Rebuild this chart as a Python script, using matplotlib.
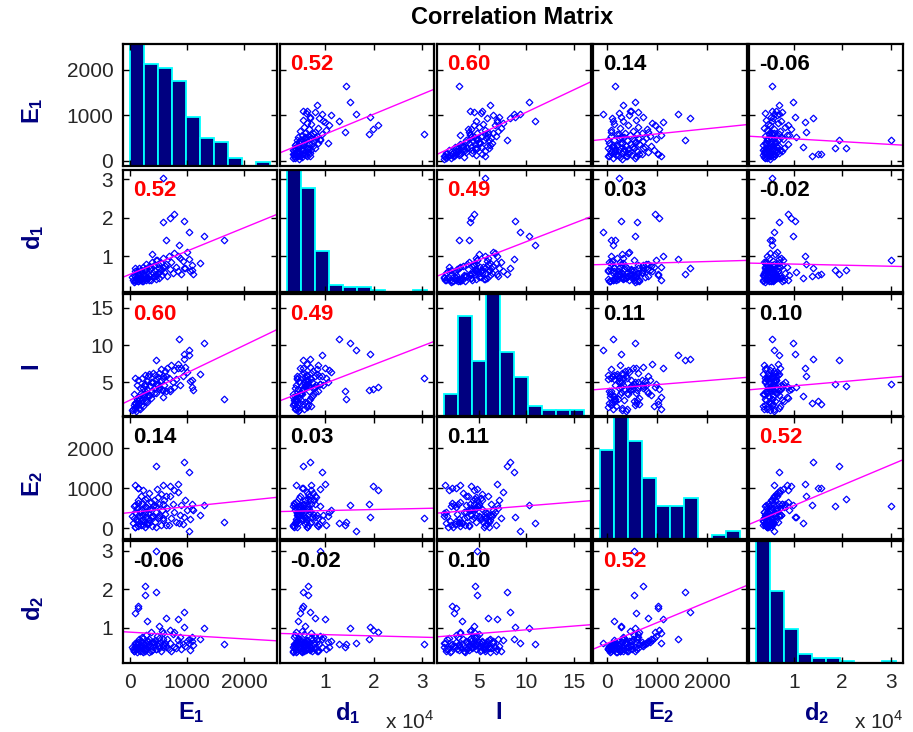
import numpy as np
import matplotlib
matplotlib.use('Agg')
import matplotlib.pyplot as plt

plt.rcParams['font.family'] = ['Liberation Sans', 'DejaVu Sans']
plt.rcParams['mathtext.fontset'] = 'custom'
plt.rcParams['mathtext.rm'] = 'Liberation Sans'
plt.rcParams['mathtext.bf'] = 'Liberation Sans:bold'

# variable names (d values are in units of 1e4)
var_labels = [r'$\mathbf{E_1}$', r'$\mathbf{d_1}$', r'$\mathbf{I}$', r'$\mathbf{E_2}$', r'$\mathbf{d_2}$']
var_ticks = [[0, 1000, 2000], [1, 2, 3], [5, 10, 15], [0, 1000, 2000], [1, 2, 3]]
sci_note = [False, True, False, False, True]

# data range of each variable (histogram span)
hist_lo = [5, 0.22, 1.25, -130, 0.22]
hist_hi = [2450, 3.10, 16.1, 2650, 3.11]

# histogram counts (10 bins)
hist_E1 = [30, 25, 24, 21, 12, 7, 6, 2, 0, 1]
hist_d1 = [53, 45, 18, 3, 2, 2, 1, 0, 0, 1]
hist_I = [7, 31, 17, 38, 20, 12, 3, 2, 2, 2]
hist_E2 = [22, 30, 24, 15, 8, 8, 10, 0, 1, 2]
hist_d2 = [54, 32, 15, 4, 2, 2, 1, 0, 0, 1]

E1 = [1654, 1289, 1027, 954, 779, 700, 590, 633, 590, 1232, 1100, 1085, 867, 466,
      466, 270, 270, 940, 1027, 850, 150, 150, 100, 100, 393, 100, 577, 300, 520, 640,
      60, 80, 95, 110, 120, 130, 140, 150, 160, 170, 180, 190, 200, 210, 220, 230,
      240, 250, 260, 270, 280, 290, 300, 310, 320, 330, 345, 360, 375, 390, 400, 415,
      430, 445, 460, 475, 490, 505, 520, 540, 555, 570, 585, 600, 620, 650, 680, 700,
      720, 750, 780, 810, 840, 870, 900, 930, 960, 1000, 1050, 1080,
      40, 70, 100, 125, 145, 175, 205, 235, 265, 295, 335, 380, 420, 460, 500]
d1 = [1.43, 1.52, 1.63, 1.93, 2.10, 1.99, 1.90, 1.42, 3.03, 0.83, 0.55, 0.64, 1.29, 0.90,
      0.55, 0.66, 0.66, 0.70, 0.94, 1.01, 0.52, 0.55, 0.48, 0.40, 1.06, 0.70, 0.72, 0.45, 0.60, 0.80,
      0.38, 0.52, 0.36, 0.45, 0.61, 0.40, 0.35, 0.58, 0.44, 0.70, 0.39, 0.48, 0.66, 0.42, 0.37, 0.55,
      0.72, 0.41, 0.50, 0.64, 0.38, 0.80, 0.47, 0.59, 0.43, 0.75, 0.52, 0.68, 0.40, 0.85, 0.56, 0.46,
      0.78, 0.62, 0.49, 0.90, 0.58, 0.71, 0.44, 0.83, 0.65, 0.53, 0.95, 0.60, 0.76, 0.48, 1.02, 0.67,
      0.86, 0.57, 1.08, 0.72, 0.63, 0.97, 0.54, 0.88, 0.70, 1.12, 0.61, 0.79,
      0.46, 0.34, 0.63, 0.41, 0.37, 0.56, 0.43, 0.35, 0.68, 0.45, 0.39, 0.73, 0.50, 0.42, 0.81]
I = [2.8, 10.3, 9.3, 8.8, 4.4, 4.16, 4.05, 3.9, 5.6, 6.1, 4.0, 5.3, 10.85, 4.8,
     7.95, 4.77, 4.5, 8.2, 8.7, 6.9, 2.5, 2.05, 2.3, 1.4, 5.0, 5.56, 3.0, 3.2, 4.4, 5.9,
     1.5, 3.4, 2.2, 1.2, 4.6, 1.9, 3.0, 5.3, 1.6, 2.8, 4.2, 3.6, 2.0, 5.6, 2.7, 4.2,
     1.8, 4.6, 3.4, 6.0, 2.5, 3.7, 5.2, 2.4, 5.8, 3.3, 6.1, 4.5, 2.9, 3.9, 6.3, 5.0,
     4.3, 6.0, 3.6, 4.8, 5.7, 6.2, 4.1, 6.8, 5.3, 4.0, 5.9, 4.7, 6.5, 7.0, 5.6, 3.8,
     7.3, 5.0, 6.7, 5.4, 7.5, 4.6, 6.9, 5.8, 7.1, 6.4, 5.2, 4.4,
     1.3, 2.0, 1.7, 2.8, 2.1, 1.5, 2.5, 3.5, 2.6, 4.1, 3.2, 5.1, 3.6, 5.5, 4.6]
E2 = [160, 571, -80, 285, 956, 1050, 600, 80, 250, 325, 470, 490, 130, 547,
      1566, 547, 733, 1650, 1420, 1120, 1013, 1013, 590, 1076, 300, 400, 1076, 139, 292, 820,
      120, 260, 40, 380, 510, 180, 60, 700, 300, 140, 450, 820, 90, 330, 600, 240,
      950, 160, 420, 20, 540, 280, 760, 100, 380, 880, 210, 480, 650, 50, 300, 560,
      720, 150, 400, 980, 250, 620, 340, 80, 860, 460, 200, 700, 360, 520, 90, 800,
      260, 620, 420, 150, 900, 330, 580, 110, 720, 450, 240, 620,
      310, 560, 30, 230, 640, 410, 170, 70, 350, 500, 130, 270, 590, 30, 780]
d2 = [0.56, 0.99, 0.60, 1.02, 0.88, 0.94, 0.70, 0.50, 0.56, 0.70, 0.55, 0.64, 0.56, 3.00,
      1.93, 1.86, 2.07, 1.40, 0.70, 1.23, 1.50, 1.56, 1.37, 0.60, 0.62, 0.50, 0.85, 1.18, 1.05, 1.25,
      0.45, 0.38, 0.52, 0.60, 0.44, 0.36, 0.48, 0.62, 0.70, 0.41, 0.50, 0.66, 0.55, 0.40, 0.75, 0.47,
      0.72, 0.58, 0.39, 0.46, 0.80, 0.43, 0.57, 0.51, 0.64, 0.69, 0.37, 0.53, 0.88, 0.42, 0.61, 0.49,
      0.56, 0.68, 0.44, 0.78, 0.52, 0.46, 0.73, 0.40, 0.63, 0.90, 0.48, 0.54, 0.59, 0.71, 0.45, 0.60,
      0.38, 0.82, 0.50, 0.47, 0.67, 0.74, 0.43, 0.58, 0.52, 0.65, 0.41, 0.76,
      0.50, 0.40, 0.44, 0.55, 0.58, 0.39, 0.62, 0.37, 0.43, 0.66, 0.58, 0.40, 0.63, 0.45, 0.60]

# least-squares lines: row variable = a + b * column variable
fit_a = [[None, 140, 89, 476, 544],
         [0.532, None, 0.439, 0.793, 0.829],
         [2.61, 2.36, None, 4.16, 3.97],
         [393, 417, 370, None, 58],
         [0.88, 0.848, 0.748, 0.581, None]]
fit_b = [[None, 442, 98.1, 0.1145, -62],
         [6.065e-4, None, 0.0946, 3.7e-5, -0.028],
         [3.68e-3, 2.506, None, 5.46e-4, 0.569],
         [0.1488, 26.5, 19.1, None, 510],
         [-8.81e-5, -0.0331, 0.01934, 5.44e-4, None]]

corr = [[None, 0.52, 0.60, 0.14, -0.06],
        [0.52, None, 0.49, 0.03, -0.02],
        [0.60, 0.49, None, 0.11, 0.10],
        [0.14, 0.03, 0.11, None, 0.52],
        [-0.06, -0.02, 0.10, 0.52, None]]

data = [E1, d1, I, E2, d2]
hists = [hist_E1, hist_d1, hist_I, hist_E2, hist_d2]
n = len(data)

lims = []
for lo, hi in zip(hist_lo, hist_hi):
    pad = 0.05 * (hi - lo)
    lims.append((lo - pad, hi + pad))

W, H = 913, 732
fig = plt.figure(figsize=(W / 100, H / 100), dpi=100)
col_left = [123, 280, 437, 593, 749]
col_w = 154
row_top = [44, 170, 294, 417, 541]
row_h = 122
navy = (0, 0, 0.5)

for i in range(n):
    for j in range(n):
        ax = fig.add_axes([col_left[j] / W, 1 - (row_top[i] + row_h) / H, col_w / W, row_h / H])
        ax.set_xlim(lims[j])
        ax.set_ylim(lims[i])
        if i == j:
            edges = np.linspace(hist_lo[i], hist_hi[i], len(hists[i]) + 1)
            counts = np.array(hists[i], dtype=float)
            lo, hi = lims[i]
            ax.bar(edges[:-1], counts / counts.max() * (hi - lo), bottom=lo,
                   width=np.diff(edges), align='edge', color=navy, edgecolor='cyan', linewidth=1.3)
        else:
            ax.plot(data[j], data[i], 'D', ms=3.4, mfc='none', mec='blue', mew=0.9)
            xs = np.array(lims[j])
            ax.plot(xs, fit_a[i][j] + fit_b[i][j] * xs, color='magenta', lw=1)
            r = corr[i][j]
            ax.text(0.065, 0.83, '%.2f' % r, transform=ax.transAxes, ha='left', va='center',
                    fontsize=16, fontweight='bold', color='red' if abs(r) >= 0.3 else 'black')
        ax.set_xticks(var_ticks[j])
        ax.set_yticks(var_ticks[i])
        ax.tick_params(direction='in', top=True, right=True, length=4, width=1,
                       labelsize=15, labelcolor='#262626', pad=7,
                       labelbottom=(i == n - 1), labelleft=(j == 0))
        for sp in ax.spines.values():
            sp.set_linewidth(1.6)
        if i == n - 1:
            off = 15 if j == 2 else 9
            fig.text((col_left[j] + col_w / 2 - off) / W, 1 - 713 / H, var_labels[j],
                     ha='center', va='center', fontsize=17, color=navy)
            if sci_note[j]:
                fig.text((col_left[j] + col_w) / W, 1 - 729 / H, r'x 10$^4$',
                         ha='right', va='baseline', fontsize=15, color='#262626')
        if j == 0:
            off = 12 if i == 2 else 6
            fig.text(33 / W, 1 - (row_top[i] + row_h / 2 + off) / H, var_labels[i],
                     ha='center', va='center', rotation=90, fontsize=17, color=navy)

fig.text(512 / W, 1 - 18 / H, 'Correlation Matrix', ha='center', va='center',
         fontsize=17, fontweight='bold')

fig.savefig('out.png', dpi=100)
